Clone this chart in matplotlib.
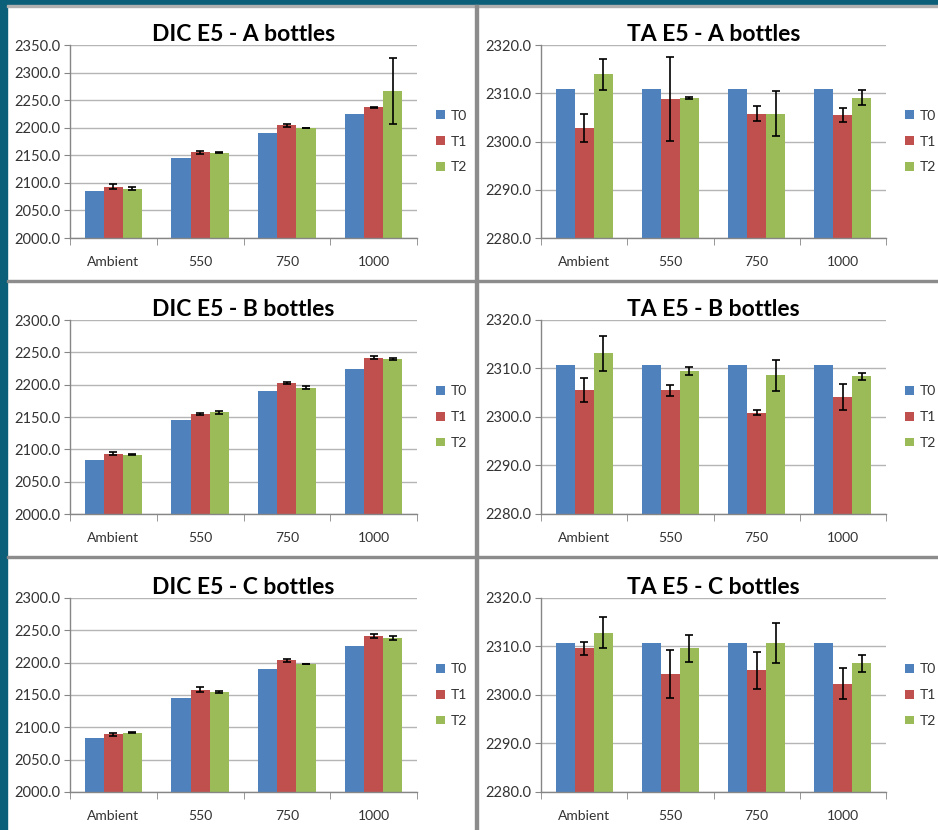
import matplotlib
matplotlib.use("Agg")
import matplotlib.pyplot as plt
import numpy as np
from matplotlib.patches import Rectangle

# ---------------- data ----------------
categories = ["Ambient", "550", "750", "1000"]
series_names = ["T0", "T1", "T2"]

dic_a_t0 = [2084.5, 2144.8, 2190.0, 2224.5]
dic_a_t1 = [2093.0, 2155.7, 2204.5, 2237.0]
dic_a_t2 = [2089.5, 2154.5, 2199.5, 2266.5]
dic_a_e1 = [4.5, 2.5, 2.5, 1.0]
dic_a_e2 = [2.5, 1.0, 0.7, 59.5]

dic_b_t0 = [2084.0, 2145.0, 2189.5, 2224.5]
dic_b_t1 = [2093.0, 2154.0, 2202.5, 2241.5]
dic_b_t2 = [2091.5, 2157.5, 2195.5, 2240.0]
dic_b_e1 = [2.5, 1.5, 2.0, 2.5]
dic_b_e2 = [1.0, 2.5, 2.0, 1.5]

dic_c_t0 = [2084.0, 2145.5, 2190.5, 2225.0]
dic_c_t1 = [2089.5, 2158.0, 2203.5, 2241.0]
dic_c_t2 = [2092.0, 2154.5, 2198.0, 2238.5]
dic_c_e1 = [2.5, 4.0, 2.5, 3.0]
dic_c_e2 = [1.0, 1.5, 0.7, 3.5]

ta_a_t0 = [2310.8, 2310.8, 2310.8, 2310.8]
ta_a_t1 = [2302.8, 2308.8, 2305.8, 2305.5]
ta_a_t2 = [2313.9, 2309.1, 2305.8, 2309.1]
ta_a_e1 = [3.0, 8.7, 1.6, 1.5]
ta_a_e2 = [3.3, 0.2, 4.7, 1.5]

ta_b_t0 = [2310.8, 2310.8, 2310.8, 2310.8]
ta_b_t1 = [2305.5, 2305.5, 2300.9, 2304.2]
ta_b_t2 = [2313.1, 2309.5, 2308.6, 2308.4]
ta_b_e1 = [2.5, 1.1, 0.5, 2.7]
ta_b_e2 = [3.6, 0.8, 3.2, 0.7]

ta_c_t0 = [2310.8, 2310.8, 2310.8, 2310.8]
ta_c_t1 = [2309.6, 2304.3, 2305.1, 2302.3]
ta_c_t2 = [2312.8, 2309.6, 2310.7, 2306.5]
ta_c_e1 = [1.3, 5.0, 3.8, 3.2]
ta_c_e2 = [3.2, 2.8, 4.2, 1.7]

dic_ticks_a = [2000, 2050, 2100, 2150, 2200, 2250, 2300, 2350]
dic_ticks_bc = [2000, 2050, 2100, 2150, 2200, 2250, 2300]
ta_ticks = [2280, 2290, 2300, 2310, 2320]

panels = [
    ("DIC E5 - A bottles", dic_a_t0, dic_a_t1, dic_a_t2, dic_a_e1, dic_a_e2, dic_ticks_a),
    ("TA E5 - A bottles", ta_a_t0, ta_a_t1, ta_a_t2, ta_a_e1, ta_a_e2, ta_ticks),
    ("DIC E5 - B bottles", dic_b_t0, dic_b_t1, dic_b_t2, dic_b_e1, dic_b_e2, dic_ticks_bc),
    ("TA E5 - B bottles", ta_b_t0, ta_b_t1, ta_b_t2, ta_b_e1, ta_b_e2, ta_ticks),
    ("DIC E5 - C bottles", dic_c_t0, dic_c_t1, dic_c_t2, dic_c_e1, dic_c_e2, dic_ticks_bc),
    ("TA E5 - C bottles", ta_c_t0, ta_c_t1, ta_c_t2, ta_c_e1, ta_c_e2, ta_ticks),
]

colors = ["#4f81bd", "#c0504d", "#9bbb59"]
teal = "#0b5f79"
divider = "#8c8c8c"
text_col = "#333333"

W, H = 938, 830
fig = plt.figure(figsize=(W / 100, H / 100), dpi=100, facecolor="white")
plt.rcParams["font.family"] = ["Lato", "DejaVu Sans"]


def frect(x0, y0, x1, y1):
    return [x0 / W, 1 - y1 / H, (x1 - x0) / W, (y1 - y0) / H]


# background frame
fig.patches.append(Rectangle((0, 0), 7 / W, 1, transform=fig.transFigure, color=teal, zorder=0))
fig.patches.append(Rectangle((0, 1 - 5 / H), 1, 5 / H, transform=fig.transFigure, color=teal, zorder=0))
fig.patches.append(Rectangle((7 / W, 1 - 7 / H), 1, 2 / H, transform=fig.transFigure, color="#b0b0b0", zorder=0))
fig.patches.append(Rectangle((475 / W, 0), 3 / W, 1 - 5 / H, transform=fig.transFigure, color=divider, zorder=0))
for yy in (281, 557):
    fig.patches.append(Rectangle((7 / W, 1 - (yy + 1) / H), 1, 2 / H, transform=fig.transFigure,
                                 color=divider, zorder=0))

rows_y = [(45, 238), (320, 514), (598, 792)]
cols_x = [(70, 417), (541, 886)]

x = np.arange(len(categories))
bw = 0.22

for i, (title, t0, t1, t2, e1, e2, ticks) in enumerate(panels):
    r, c = divmod(i, 2)
    x0, x1 = cols_x[c]
    y0, y1 = rows_y[r]
    ax = fig.add_axes(frect(x0, y0, x1, y1))
    ax.set_facecolor("white")
    ekw = dict(ecolor="black", elinewidth=1.2, capsize=3, capthick=1.2)
    ax.bar(x - bw, t0, bw, color=colors[0], label=series_names[0], zorder=2)
    ax.bar(x, t1, bw, color=colors[1], label=series_names[1], zorder=2,
           yerr=e1, error_kw=ekw)
    ax.bar(x + bw, t2, bw, color=colors[2], label=series_names[2], zorder=2,
           yerr=e2, error_kw=ekw)
    ax.set_ylim(ticks[0], ticks[-1])
    ax.set_xlim(-0.5, len(categories) - 0.5)
    ax.set_yticks(ticks)
    ax.set_yticklabels([f"{t:.1f}" for t in ticks], fontsize=10.5, color=text_col)
    ax.set_xticks(x)
    ax.set_xticklabels(categories, fontsize=10, color=text_col)
    ax.set_xticks(np.arange(len(categories) + 1) - 0.5, minor=True)
    ax.tick_params(axis="x", which="major", length=0, pad=13)
    ax.tick_params(axis="x", which="minor", length=5, color="#868686", direction="out")
    ax.tick_params(axis="y", length=4, color="#868686", direction="out", pad=3)
    ax.grid(axis="y", color="#b5b5b5", linewidth=1.0, zorder=0)
    ax.set_axisbelow(True)
    for s in ("top", "right"):
        ax.spines[s].set_visible(False)
    for s in ("left", "bottom"):
        ax.spines[s].set_color("#868686")
        ax.spines[s].set_linewidth(1.0)
    ax.set_title(title, fontsize=16.5, fontweight="bold", pad=1, color="black")
    ax.legend(loc="center left", bbox_to_anchor=(1.02, 0.5), frameon=False,
              fontsize=10, handlelength=0.6, handleheight=0.6, labelspacing=1.0,
              handletextpad=0.4, labelcolor=text_col)

fig.savefig("out.png", dpi=100, facecolor="white")
